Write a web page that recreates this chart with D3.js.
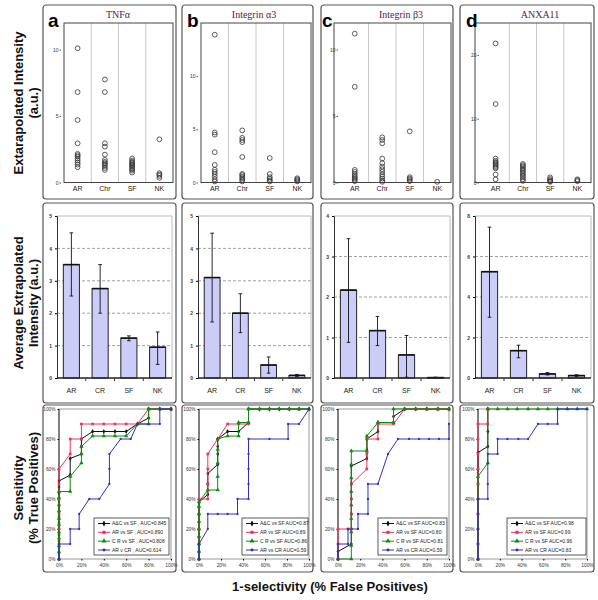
<!DOCTYPE html>
<html><head><meta charset="utf-8">
<script src="https://cdn.jsdelivr.net/npm/d3@7"></script>
<style>
body{margin:0;background:#fff}
svg{display:block}
text{font-family:Arial,"Liberation Sans",sans-serif}
</style>
</head><body>
<svg id="c" width="598" height="600"></svg>
<script>
// ---------------- DATA ----------------
const panelLetters = ["a","b","c","d"];
const panelTitles = ["TNFα","Integrin α3","Integrin β3","ANXA11"];
const scatterCats = ["AR","Chr","SF","NK"];
const barCats = ["AR","CR","SF","NK"];

// top row: individual extrapolated intensities, [AR, Chr, SF, NK]
const scatterTNF = [
  [10.1,6.8,4.7,2.95,2.15,2.05,1.95,1.8,1.65,1.5,1.35,1.15],
  [7.75,6.8,2.95,2.7,2.1,1.7,1.55,1.45,1.35,1.25,1.1,0.95],
  [1.8,1.65,1.55,1.45,1.35,1.3,1.2,1.1,1.0,0.9,0.75],
  [3.25,0.7,0.6,0.5,0.35]];
const scatterITGA3 = [
  [13.9,4.7,4.5,2.85,1.65,1.2,1.0,0.8,0.55,0.3,0.1],
  [4.9,4.2,4.0,3.8,2.4,0.8,0.7,0.55,0.4,0.25,0.1],
  [2.3,0.8,0.5,0.35,0.2,0.1],
  [0.4,0.3,0.2,0.1]];
const scatterITGB3 = [
  [11.2,7.2,0.95,0.8,0.65,0.5,0.4,0.3,0.2,0.1],
  [3.4,3.2,2.95,1.8,1.45,1.2,1.0,0.8,0.6,0.45,0.3,0.15,0.05],
  [3.85,0.4,0.3,0.2,0.1],
  [0.05]];
const scatterANXA11 = [
  [21.8,12.3,3.75,3.4,3.2,3.0,2.8,2.6,2.4,2.2,1.25,0.5],
  [2.9,2.7,2.5,2.25,2.0,1.8,1.55,1.3,1.05,0.8,0.5,0.25],
  [0.8,0.55,0.35,0.2,0.1],
  [0.5,0.35,0.2]];
const scatterMax = [12,15,12,25];
const scatterTicks = [[0,5,10],[0,5,10],[0,5,10],[0,10,20]];

// middle row: mean with error bar low/high, [AR, CR, SF, NK]
const barMeanTNF = [3.5,2.76,1.23,0.95];
const barLowTNF  = [2.53,2.0,1.15,0.42];
const barHighTNF = [4.48,3.5,1.3,1.42];
const barMeanITGA3 = [3.1,2.0,0.4,0.08];
const barLowITGA3  = [1.73,1.4,0.15,0.05];
const barHighITGA3 = [4.47,2.6,0.65,0.11];
const barMeanITGB3 = [2.17,1.17,0.57,0.01];
const barLowITGB3  = [0.88,0.8,0.02,0.0];
const barHighITGB3 = [3.44,1.52,1.05,0.02];
const barMeanANXA11 = [5.25,1.35,0.2,0.12];
const barLowANXA11  = [3.0,1.0,0.15,0.08];
const barHighANXA11 = [7.45,1.62,0.27,0.16];
const barMax = [5,5,4,8];
const barTicks = [[0,1,2,3,4,5],[0,1,2,3,4,5],[0,1,2,3,4],[0,2,4,6,8]];

// bottom row: ROC curves [% false positives, % true positives]
const rocA_ACvsSF = [[0,0],[0,4],[0,8],[0,12],[0,16],[0,20],[0,24],[0,28],[0,32],[0,36],[0,40],[0,44],[0,48],[0,52],[10,56],[10,67],[20,70],[20,75],[20,80],[30,85],[40,85],[50,85],[60,85],[70,90],[80,94],[80,100],[90,100],[100,100]];
const rocA_ARvsSF = [[0,0],[0,10],[0,20],[0,30],[0,40],[0,50],[0,60],[10,70],[10,80],[20,80],[20,90],[30,90],[40,90],[50,90],[60,90],[70,90],[80,100],[90,100],[100,100]];
const rocA_CRvsSF = [[0,0],[0,5],[0,9],[0,14],[0,18],[0,23],[0,27],[0,32],[0,36],[0,41],[0,45],[10,45],[10,55],[20,64],[20,70],[20,75],[30,82],[40,82],[50,82],[60,82],[70,90],[80,90],[80,100],[90,100],[100,100]];
const rocA_ARvsCR = [[0,0],[0,10],[10,10],[10,20],[18,20],[18,30],[27,40],[36,40],[45,50],[45,60],[45,70],[55,80],[64,80],[70,90],[80,90],[90,90],[90,100],[100,100]];

const rocB_ACvsSF = [[0,0],[0,5],[0,10],[0,15],[0,20],[0,25],[0,30],[0,35],[0,38],[8,43],[8,50],[8,57],[17,63],[17,70],[17,75],[17,80],[26,85],[36,85],[45,91],[45,100],[55,100],[64,100],[73,100],[82,100],[91,100],[100,100]];
const rocB_ARvsSF = [[0,0],[0,10],[0,20],[0,30],[0,40],[8,40],[8,50],[8,60],[8,70],[17,80],[26,90],[36,90],[45,90],[45,100]];
const rocB_CRvsSF = [[0,0],[0,5],[0,10],[0,15],[0,20],[0,25],[0,30],[0,35],[0,38],[8,46],[17,46],[17,55],[17,64],[17,73],[17,80],[26,82],[36,82],[36,91],[45,91],[45,100],[55,100],[64,100],[73,100],[82,100],[91,100],[100,100]];
const rocB_ARvsCR = [[0,0],[0,5],[0,10],[8,20],[8,30],[17,30],[26,30],[35,30],[35,40],[45,40],[45,50],[45,60],[45,70],[45,80],[64,80],[81,80],[81,90],[91,90],[100,100]];

const rocC_ACvsSF = [[0,0],[0,5],[12,10],[12,20],[12,30],[12,40],[12,50],[12,62],[26,67],[26,73],[26,80],[36,85],[36,91],[50,91],[50,95],[60,100],[70,100],[80,100],[90,100],[100,100]];
const rocC_ARvsSF = [[0,0],[0,10],[0,20],[9,20],[12,20],[12,30],[12,40],[12,50],[26,60],[26,70],[26,80],[36,80],[36,90],[50,90],[60,100],[70,100],[80,100],[90,100],[100,100]];
const rocC_CRvsSF = [[0,0],[12,0],[12,9],[12,18],[12,27],[12,36],[12,45],[12,54],[12,63],[12,72],[26,72],[26,82],[36,91],[50,91],[50,100],[60,100],[70,100],[80,100],[90,100],[100,100]];
const rocC_ARvsCR = [[0,0],[0,10],[9,10],[9,20],[18,20],[18,30],[27,30],[27,40],[27,50],[36,50],[45,70],[54,80],[64,80],[73,80],[82,80],[91,80],[100,80],[100,90]];

const rocD_ACvsSF = [[0,0],[0,10],[0,20],[0,30],[0,40],[0,50],[0,60],[0,71],[9,75],[9,85],[9,100]];
const rocD_ARvsSF = [[0,0],[0,10],[0,20],[0,30],[0,40],[0,50],[0,60],[0,70],[0,80],[0,90],[9,90],[9,100]];
const rocD_CRvsSF = [[0,0],[0,55],[9,64],[9,100],[18,100],[27,100],[36,100],[46,100],[55,100],[64,100],[73,100],[82,100],[91,100],[100,100]];
const rocD_ARvsCR = [[0,0],[0,10],[0,20],[0,30],[0,40],[9,40],[9,50],[9,70],[18,70],[18,80],[27,80],[37,80],[46,80],[55,90],[64,90],[73,90],[73,100],[82,100],[91,100],[100,100]];

const rocTicks = [0,20,40,60,80,100];
const rocLegendA = ["A&C vs SF , AUC=0.845","AR vs SF , AUC=0.890","C R vs SF , AUC=0.808","AR v CR , AUC=0.614"];
const rocLegendB = ["A&C vs SF AUC=0.87","AR vs SF AUC=0.89","C R vs SF AUC=0.86","AR vs CR AUC=0.59"];
const rocLegendC = ["A&C vs SF AUC=0.83","AR vs SF AUC=0.80","C R vs SF AUC=0.81","AR vs CR AUC=0.59"];
const rocLegendD = ["A&C vs SF AUC=0.98","AR vs SF AUC=0.99","C R vs SF AUC=0.96","AR vs CR AUC=0.83"];

// ---------------- STYLE / LAYOUT ----------------
const rocColors = ["#111111","#ee3355","#118a11","#3030c0"];
const rocSymbols = [d3.symbolDiamond,d3.symbolSquare,d3.symbolTriangle,d3.symbolCircle];
const rocSymSize = [7,7,8,4];

const svg = d3.select("#c");
const boxX = [[43,176],[182,313],[321,453],[460,594]];
const rowsY = [[5,199],[203,403],[405,572]];
const topL=[64,201,334,475], topR=[173,311,451,591], topPad=[0,0,7,7], topY=[23,182.5];
const midL=[57,198,334,475], midR=[172,311,450,591], midY=[216,378];
const rocL=[59,199,338,478], rocR=[171,309,449,587], rocY=[409,559];
const legX=[[94,169],[242,308],[378,447],[507,586]], legY=[518,555];
const titleX=[118,254,401,540];
const letterX=[48,187,322,466];

const scatterData=[scatterTNF,scatterITGA3,scatterITGB3,scatterANXA11];
const barMeans=[barMeanTNF,barMeanITGA3,barMeanITGB3,barMeanANXA11];
const barLows=[barLowTNF,barLowITGA3,barLowITGB3,barLowANXA11];
const barHighs=[barHighTNF,barHighITGA3,barHighITGB3,barHighANXA11];
const rocData=[
  [rocA_ACvsSF,rocA_ARvsSF,rocA_CRvsSF,rocA_ARvsCR],
  [rocB_ACvsSF,rocB_ARvsSF,rocB_CRvsSF,rocB_ARvsCR],
  [rocC_ACvsSF,rocC_ARvsSF,rocC_CRvsSF,rocC_ARvsCR],
  [rocD_ACvsSF,rocD_ARvsSF,rocD_CRvsSF,rocD_ARvsCR]];
const rocLegends=[rocLegendA,rocLegendB,rocLegendC,rocLegendD];

// panel boxes
[0,1,2,3].forEach(i=>{
  rowsY.forEach(r=>{
    svg.append("rect").attr("x",boxX[i][0]).attr("y",r[0])
      .attr("width",boxX[i][1]-boxX[i][0]).attr("height",r[1]-r[0])
      .attr("rx",3).attr("fill","none").attr("stroke","#555").attr("stroke-width",1.2);
  });
});

// ---------------- TOP ROW ----------------
[0,1,2,3].forEach(i=>{
  const g=svg.append("g");
  const y=d3.scaleLinear().domain([0,scatterMax[i]]).range([topY[1],topY[0]]);
  const x=d3.scaleBand().domain(scatterCats).range([topL[i]+topPad[i],topR[i]]);
  scatterCats.slice(1).forEach(c=>{
    g.append("line").attr("x1",x(c)).attr("x2",x(c)).attr("y1",topY[0]).attr("y2",topY[1])
      .attr("stroke","#c8c8c8").attr("stroke-width",1);
  });
  g.append("rect").attr("x",topL[i]).attr("y",topY[0]).attr("width",topR[i]-topL[i])
    .attr("height",topY[1]-topY[0]).attr("fill","none").attr("stroke","#444").attr("stroke-width",1);
  const ay=g.append("g").attr("transform",`translate(${topL[i]+topPad[i]-3},0)`)
    .call(d3.axisLeft(y).tickValues(scatterTicks[i]).tickFormat(d3.format("d")).tickSize(1.5).tickPadding(1));
  ay.select(".domain").remove();
  ay.selectAll("text").attr("font-size",5).attr("fill","#333");
  ay.selectAll("line").attr("stroke","#555");
  const ax=g.append("g").attr("transform",`translate(0,${topY[1]+2})`)
    .call(d3.axisBottom(x).tickSize(0).tickPadding(2));
  ax.select(".domain").remove();
  ax.selectAll("text").attr("font-size",7).attr("fill","#222");
  scatterData[i].forEach((vals,j)=>{
    g.selectAll(null).data(vals).enter().append("circle")
      .attr("cx",x(scatterCats[j])+x.bandwidth()/2).attr("cy",d=>y(d)).attr("r",2.4)
      .attr("fill","none").attr("stroke","#333").attr("stroke-width",0.8);
  });
  svg.append("text").attr("x",titleX[i]).attr("y",18).attr("text-anchor","middle")
    .style("font-family","'Liberation Serif','Times New Roman',serif")
    .attr("font-size",10).attr("fill","#502050").text(panelTitles[i]);
  svg.append("text").attr("x",letterX[i]).attr("y",27).attr("font-size",19).attr("font-weight","bold")
    .attr("fill","#000").text(panelLetters[i]);
});

// ---------------- MIDDLE ROW ----------------
[0,1,2,3].forEach(i=>{
  const g=svg.append("g");
  const y=d3.scaleLinear().domain([0,barMax[i]]).range([midY[1],midY[0]]);
  const x=d3.scaleBand().domain(barCats).range([midL[i],midR[i]]).paddingInner(0.44).paddingOuter(0.22);
  barTicks[i].filter(t=>t>0 && t<barMax[i]).forEach(t=>{
    g.append("line").attr("x1",midL[i]).attr("x2",midR[i]).attr("y1",y(t)).attr("y2",y(t))
      .attr("stroke","#888").attr("stroke-width",0.8).attr("stroke-dasharray","3,2");
  });
  g.append("path").attr("d",`M${midL[i]},${midY[0]}H${midR[i]}V${midY[1]}`)
    .attr("fill","none").attr("stroke","#bbb").attr("stroke-width",1);
  g.selectAll(null).data(barMeans[i]).enter().append("rect")
    .attr("x",(d,j)=>x(barCats[j])).attr("width",x.bandwidth())
    .attr("y",d=>y(d)).attr("height",d=>y(0)-y(d))
    .attr("fill","#ccccf8").attr("stroke","#222").attr("stroke-width",1);
  g.selectAll(null).data(barMeans[i]).enter().append("line")
    .attr("x1",(d,j)=>x(barCats[j])).attr("x2",(d,j)=>x(barCats[j])+x.bandwidth())
    .attr("y1",d=>y(d)).attr("y2",d=>y(d)).attr("stroke","#111").attr("stroke-width",1.6);
  barMeans[i].forEach((m,j)=>{
    const cx=x(barCats[j])+x.bandwidth()/2;
    const lo=y(barLows[i][j]), hi=y(barHighs[i][j]);
    g.append("line").attr("x1",cx).attr("x2",cx).attr("y1",lo).attr("y2",hi).attr("stroke","#111").attr("stroke-width",0.9);
    [lo,hi].forEach(yy=>g.append("line").attr("x1",cx-1.8).attr("x2",cx+1.8).attr("y1",yy).attr("y2",yy).attr("stroke","#111").attr("stroke-width",0.9));
  });
  const ay=g.append("g").attr("transform",`translate(${midL[i]},0)`)
    .call(d3.axisLeft(y).tickValues(barTicks[i]).tickFormat(d3.format("d")).tickSize(2).tickPadding(3));
  ay.select(".domain").attr("stroke","#333");
  ay.selectAll("text").attr("font-size",5).attr("font-weight","bold").attr("fill","#333");
  g.append("line").attr("x1",midL[i]).attr("x2",midR[i]).attr("y1",midY[1]).attr("y2",midY[1]).attr("stroke","#222").attr("stroke-width",1.4);
  const step=x.step();
  barCats.slice(1).forEach((c,k)=>{
    const xx=midL[i]+step*(k+1);
    g.append("line").attr("x1",xx).attr("x2",xx).attr("y1",midY[1]).attr("y2",midY[1]+3).attr("stroke","#333");
  });
  g.selectAll(null).data(barCats).enter().append("text")
    .attr("x",c=>x(c)+x.bandwidth()/2).attr("y",midY[1]+14.5).attr("text-anchor","middle")
    .attr("font-size",7).attr("fill","#222").text(c=>c);
});

// ---------------- BOTTOM ROW (ROC) ----------------
[0,1,2,3].forEach(i=>{
  const g=svg.append("g");
  const x=d3.scaleLinear().domain([0,100]).range([rocL[i],rocR[i]]);
  const y=d3.scaleLinear().domain([0,100]).range([rocY[1],rocY[0]]);
  g.append("rect").attr("x",rocL[i]).attr("y",rocY[0]).attr("width",rocR[i]-rocL[i]).attr("height",rocY[1]-rocY[0])
    .attr("fill","none").attr("stroke","#999").attr("stroke-width",1);
  g.append("line").attr("x1",rocL[i]).attr("x2",rocL[i]).attr("y1",rocY[0]).attr("y2",rocY[1]).attr("stroke","#333");
  const ay=g.append("g").attr("transform",`translate(${rocL[i]},0)`)
    .call(d3.axisLeft(y).tickValues(rocTicks).tickFormat(d=>d+"%").tickSize(1.5).tickPadding(2));
  ay.select(".domain").remove();
  ay.selectAll("text").attr("font-size",4.8).attr("fill","#333");
  const ax=g.append("g").attr("transform",`translate(0,${rocY[1]})`)
    .call(d3.axisBottom(x).tickValues(rocTicks).tickFormat(d=>d+"%").tickSize(1.5).tickPadding(3));
  ax.select(".domain").remove();
  ax.selectAll("text").attr("font-size",4.8).attr("fill","#333");
  const line=d3.line().x(d=>x(d[0])).y(d=>y(d[1]));
  rocData[i].forEach((pts,k)=>{
    g.append("path").datum(pts).attr("d",line).attr("fill","none").attr("stroke",rocColors[k]).attr("stroke-width",1);
    g.selectAll(null).data(pts).enter().append("path")
      .attr("transform",d=>`translate(${x(d[0])},${y(d[1])})`)
      .attr("d",d3.symbol().type(rocSymbols[k]).size(rocSymSize[k])).attr("fill",rocColors[k]);
  });
  const lg=g.append("g");
  lg.append("rect").attr("x",legX[i][0]).attr("y",legY[0]).attr("width",legX[i][1]-legX[i][0]).attr("height",legY[1]-legY[0])
    .attr("fill","#fff").attr("stroke","#333").attr("stroke-width",0.8);
  const ly=d3.scalePoint().domain([0,1,2,3]).range([legY[0]+5.5,legY[1]-5]);
  rocLegends[i].forEach((t,k)=>{
    const yy=ly(k);
    lg.append("line").attr("x1",legX[i][0]+4).attr("x2",legX[i][0]+16).attr("y1",yy).attr("y2",yy).attr("stroke",rocColors[k]).attr("stroke-width",1);
    lg.append("path").attr("transform",`translate(${legX[i][0]+10},${yy})`)
      .attr("d",d3.symbol().type(rocSymbols[k]).size(rocSymSize[k]+3)).attr("fill",rocColors[k]);
    lg.append("text").attr("x",legX[i][0]+18).attr("y",yy+1.8).attr("font-size",5).attr("fill","#222").text(t);
  });
});

// ---------------- ROW / AXIS LABELS ----------------
function sideLabel(lines, cy){
  lines.forEach((t,k)=>{
    svg.append("text").attr("transform",`translate(${23+k*15},${cy}) rotate(-90)`)
      .attr("text-anchor","middle").attr("font-size",13).attr("font-weight","bold").attr("fill","#111").text(t);
  });
}
sideLabel(["Extarapolated Intensity","(a.u.)"],103);
sideLabel(["Average Extrapolated","Intensity (a.u.)"],303);
sideLabel(["Sensitivity","(% True Positives)"],488);
svg.append("text").attr("x",330).attr("y",591).attr("text-anchor","middle").attr("font-size",13)
  .attr("font-weight","bold").attr("fill","#111").text("1-selectivity (% False Positives)");
</script>
</body></html>
